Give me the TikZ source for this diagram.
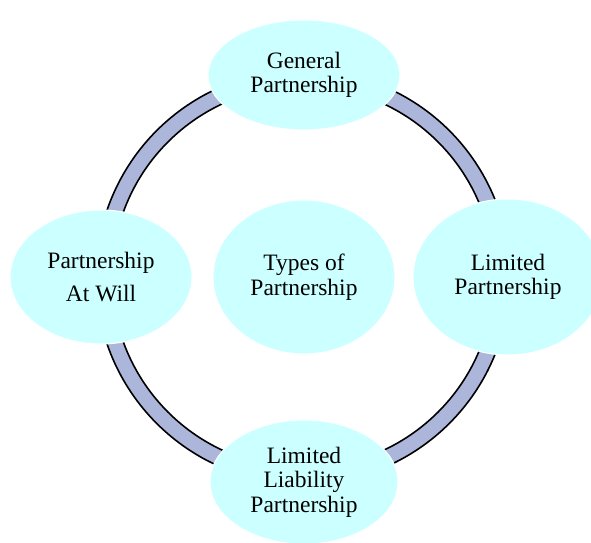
\documentclass[tikz,border=0pt]{standalone}
\usepackage{fontspec}
\setmainfont{Liberation Serif}
\begin{document}
\begin{tikzpicture}[x=1pt,y=-1pt,
  bubble/.style={ellipse, fill=bubblecyan, draw=white, line width=1pt, align=center,
    font=\fontsize{23.5}{24.5}\selectfont, inner sep=0pt},
  ]
\definecolor{bubblecyan}{RGB}{204,255,255}
\definecolor{ringblue}{RGB}{172,182,218}
\usetikzlibrary{shapes.geometric}
\useasboundingbox (0,0) rectangle (591,542);
% ring band behind the bubbles
\coordinate (c) at (303,277);
\fill[ringblue, even odd rule] (c) circle[radius=207] (c) circle[radius=191];
\draw[line width=1.6pt] (c) circle[radius=207];
\draw[line width=1.6pt] (c) circle[radius=191];
% bubbles
\node[bubble, minimum width=192, minimum height=110] (gp) at (304,75) {General\\Partnership};
\node[bubble, minimum width=190, minimum height=156] (lp) at (508,277) {Limited\\Partnership};
\node[bubble, minimum width=182, minimum height=134] (pw) at (101,277) {Partnership\\[9pt]At Will};
\node[bubble, minimum width=188, minimum height=124] (llp) at (304,482) {Limited\\Liability\\Partnership};
\node[bubble, minimum width=182, minimum height=154] (tp) at (304,277) {Types of\\Partnership};
\end{tikzpicture}
\end{document}
